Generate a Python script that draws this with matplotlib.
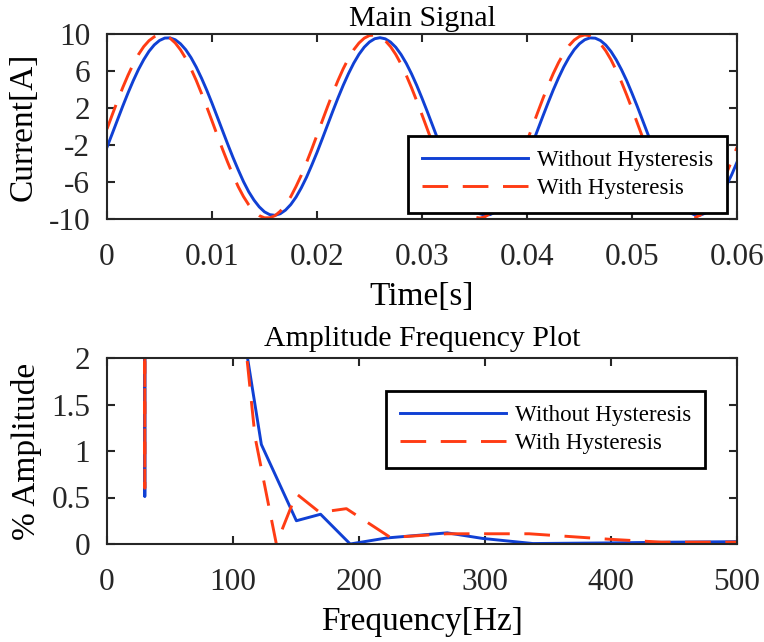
import numpy as np
import matplotlib
matplotlib.use("Agg")
import matplotlib.pyplot as plt

plt.rcParams['font.family'] = ['Liberation Serif', 'DejaVu Serif']
plt.rcParams['axes.unicode_minus'] = False

# ---------------- data: top panel (current vs time) ----------------
# values read at every whole millisecond (0 .. 60 ms)
without_whole_ms = [
    -2.24, 0.72, 3.62, 6.17, 8.13, 9.30, 9.58, 8.94, 7.45, 5.23,
    2.52, -0.44, -3.35, -5.96, -7.96, -9.23, -9.60, -9.04, -7.64, -5.49,
    -2.81, 0.15, 3.09, 5.72, 7.81, 9.14, 9.60, 9.13, 7.79, 5.70,
    3.06, 0.13, -2.82, -5.50, -7.65, -9.05, -9.60, -9.22, -7.95, -5.92,
    -3.33, -0.41, 2.54, 5.25, 7.46, 8.95, 9.58, 9.29, 8.11, 6.14,
    3.59, 0.70, -2.27, -5.00, -7.28, -8.86, -9.57, -9.36, -8.26, -6.36,
    -3.86]
# values read half-way between (0.5 .. 59.5 ms)
without_half_ms = [
    -0.77, 2.20, 4.95, 7.23, 8.82, 9.56, 9.38, 8.30, 6.42, 3.93,
    1.05, -1.92, -4.69, -7.06, -8.69, -9.53, -9.43, -8.44, -6.64, -4.18,
    -1.34, 1.64, 4.46, 6.85, 8.58, 9.49, 9.48, 8.57, 6.83, 4.44,
    1.62, -1.36, -4.20, -6.66, -8.43, -9.43, -9.52, -8.68, -7.04, -4.67,
    -1.90, 1.08, 3.95, 6.44, 8.31, 9.38, 9.55, 8.81, 7.21, 4.94,
    2.18, -0.79, -3.69, -6.23, -8.16, -9.32, -9.58, -8.92, -7.42, -5.20]
with_whole_ms = [
    -0.27, 2.77, 5.54, 7.79, 9.28, 9.89, 9.55, 8.29, 6.24, 3.58,
    0.60, -2.45, -5.25, -7.58, -9.17, -9.87, -9.64, -8.47, -6.49, -3.90,
    -0.93, 2.13, 4.98, 7.36, 9.03, 9.84, 9.70, 8.64, 6.75, 4.20,
    1.26, -1.80, -4.68, -7.15, -8.88, -9.80, -9.76, -8.79, -7.00, -4.50,
    -1.59, 1.47, 4.40, 6.90, 8.74, 9.74, 9.81, 8.94, 7.22, 4.80,
    1.92, -1.14, -4.09, -6.68, -8.57, -9.68, -9.85, -9.07, -7.45, -5.06,
    -2.24]
with_half_ms = [
    1.27, 4.21, 6.75, 8.64, 9.70, 9.84, 9.03, 7.36, 4.98, 2.12,
    -0.94, -3.89, -6.51, -8.47, -9.64, -9.87, -9.16, -7.59, -5.28, -2.45,
    0.61, 3.60, 6.25, 8.30, 9.55, 9.89, 9.28, 7.79, 5.54, 2.76,
    -0.27, -3.29, -6.00, -8.10, -9.47, -9.90, -9.39, -8.00, -5.83, -3.10,
    -0.06, 2.97, 5.72, 7.91, 9.35, 9.90, 9.49, 8.18, 6.07, 3.39,
    0.39, -2.65, -5.43, -7.72, -9.24, -9.88, -9.58, -8.36, -6.33, -3.70]
time_ticks = [0, 0.01, 0.02, 0.03, 0.04, 0.05, 0.06]
time_ticklabels = ['0', '0.01', '0.02', '0.03', '0.04', '0.05', '0.06']
current_ticks = [10, 6, 2, -2, -6, -10]

# ---------------- data: bottom panel (spectrum) ----------------
freq_without = [29.6, 30.0, 30.4, 108.0, 122.5, 150.3, 169.5, 193.0, 222.0,
                270.0, 298.0, 338.0, 400.0, 450.0, 500.0]
amp_without = [100.0, 0.51, 100.0, 2.3, 1.07, 0.25, 0.32, 0.0, 0.065,
               0.12, 0.06, 0.005, 0.012, 0.02, 0.025]
freq_with = [29.6, 30.0, 30.4, 108.0, 117.5, 134.4, 150.3, 168.8, 190.0,
             225.0, 270.0, 335.0, 400.0, 440.0, 500.0]
amp_with = [100.0, 0.6, 100.0, 2.4, 1.15, 0.0, 0.54, 0.34, 0.38,
            0.07, 0.11, 0.11, 0.05, 0.02, 0.02]
freq_ticks = [0, 100, 200, 300, 400, 500]
amp_ticks = [0, 0.5, 1, 1.5, 2]
amp_ticklabels = ['0', '0.5', '1', '1.5', '2']

labels = ['Without Hysteresis', 'With Hysteresis']

# build the sample table (whole and half millisecond readings, in time order)
time_s = np.linspace(0.0, 0.06, 2 * len(without_half_ms) + 1)
current_without = np.empty(time_s.size)
current_without[0::2] = without_whole_ms
current_without[1::2] = without_half_ms
current_with = np.empty(time_s.size)
current_with[0::2] = with_whole_ms
current_with[1::2] = with_half_ms

# ---------------- style ----------------
BLUE = '#1040d4'
RED = '#ff3c14'
AX = '#262626'
LW = 2.1
DASH = (8.8, 5.0)

W, H = 764, 642
fig = plt.figure(figsize=(W / 100, H / 100), dpi=100)

def px_axes(left, top, right, bottom):
    return fig.add_axes([left / W, 1 - bottom / H, (right - left) / W, (bottom - top) / H])

def style(ax):
    for s in ax.spines.values():
        s.set_linewidth(1.5)
        s.set_color(AX)
    ax.tick_params(direction='in', top=True, right=True, length=6, width=1.5,
                   colors=AX, labelcolor=AX, labelsize=22.5)
    ax.tick_params(axis='x', pad=17)
    ax.tick_params(axis='y', pad=12)

def legend(ax, anchor):
    leg = ax.legend(labels, loc='upper right', bbox_to_anchor=anchor,
                    borderaxespad=0, fontsize=16.6, frameon=True, fancybox=False,
                    framealpha=1, edgecolor='black', handlelength=4.6,
                    handletextpad=0.4, borderpad=0.6, labelspacing=0.3)
    leg.get_frame().set_linewidth(2.0)
    return leg

# top panel
ax1 = px_axes(107, 34, 737, 219)
ax1.plot(time_s, current_without, color=BLUE, lw=LW)
ax1.plot(time_s, current_with, color=RED, lw=LW, linestyle=(0, DASH))
ax1.set_xlim(0, 0.06)
ax1.set_ylim(-10, 10)
ax1.set_xticks(time_ticks)
ax1.set_xticklabels(time_ticklabels)
ax1.set_yticks(current_ticks)
ax1.set_yticklabels([str(v) for v in current_ticks])
style(ax1)
ax1.set_title('Main Signal', fontsize=21.5, pad=6, color='black')
ax1.set_xlabel('Time[s]', fontsize=24, labelpad=7, color='black')
ax1.set_ylabel('Current[A]', fontsize=24, labelpad=7, color='black')
legend(ax1, ((727 - 107) / 630, (219 - 136) / 185))

# bottom panel
ax2 = px_axes(107, 358, 737, 544)
ax2.plot(freq_without, amp_without, color=BLUE, lw=LW)
ax2.plot(freq_with, amp_with, color=RED, lw=LW, linestyle=(0, DASH))
ax2.set_xlim(0, 500)
ax2.set_ylim(0, 2)
ax2.set_xticks(freq_ticks)
ax2.set_xticklabels([str(v) for v in freq_ticks])
ax2.set_yticks(amp_ticks)
ax2.set_yticklabels(amp_ticklabels)
style(ax2)
ax2.set_title('Amplitude Frequency Plot', fontsize=21.5, pad=9, color='black')
ax2.set_xlabel('Frequency[Hz]', fontsize=24, labelpad=7, color='black')
ax2.set_ylabel('% Amplitude', fontsize=24, labelpad=7, color='black')
legend(ax2, ((705 - 107) / 630, (544 - 391) / 186))

fig.savefig('out.png', dpi=100)
